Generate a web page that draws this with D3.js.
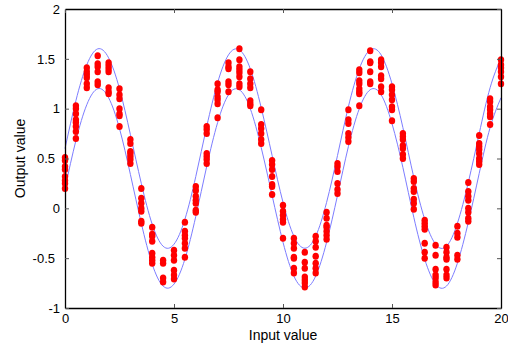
<!DOCTYPE html>
<html><head><meta charset="utf-8">
<script src="https://cdn.jsdelivr.net/npm/d3@7"></script>
<style>body{margin:0;background:#fff}svg{display:block}text{font-family:"Liberation Sans",Arial,sans-serif}</style>
</head><body>
<script>
const xTicks=[0,5,10,15,20];
const yTicks=[-1,-0.5,0,0.5,1,1.5,2];
const lineX=[0,0.5,1,1.5,2,2.5,3,3.5,4,4.5,5,5.5,6,6.5,7,7.5,8,8.5,9,9.5,10,10.5,11,11.5,12,12.5,13,13.5,14,14.5,15,15.5,16,16.5,17,17.5,18,18.5,19,19.5,20];
const upperY=[0.60,1.08,1.44,1.60,1.51,1.20,0.74,0.25,-0.16,-0.38,-0.36,-0.11,0.32,0.82,1.26,1.54,1.59,1.40,1.01,0.53,0.06,-0.28,-0.40,-0.28,0.06,0.53,1.02,1.40,1.59,1.54,1.25,0.81,0.31,-0.11,-0.36,-0.38,-0.15,0.26,0.75,1.21,1.51];
const lowerY=[0.20,0.68,1.04,1.20,1.11,0.80,0.34,-0.15,-0.56,-0.78,-0.76,-0.51,-0.08,0.42,0.86,1.14,1.19,1.00,0.61,0.13,-0.34,-0.68,-0.80,-0.68,-0.34,0.13,0.62,1.00,1.19,1.14,0.85,0.41,-0.09,-0.51,-0.76,-0.78,-0.55,-0.14,0.35,0.81,1.11];
// sample values per input column (same order as lineX)
const samples=[
[0.51,0.48,0.42,0.39,0.32,0.28,0.25,0.20],
[1.03,1.00,0.95,0.89,0.86,0.82,0.77,0.70],
[1.41,1.37,1.34,1.31,1.25,1.21],
[1.53,1.45,1.42,1.37,1.27,1.24],
[1.46,1.43,1.40,1.37,1.21,1.17,1.15],
[1.20,1.14,1.10,1.00,0.95,0.93,0.82],
[0.69,0.65,0.57,0.55,0.52,0.49,0.45],
[0.20,0.10,0.05,0.00,-0.03,-0.13,-0.15],
[-0.19,-0.26,-0.28,-0.33,-0.45,-0.49,-0.52,-0.55],
[-0.52,-0.55,-0.70,-0.74],
[-0.42,-0.47,-0.52,-0.62,-0.67,-0.71],
[-0.14,-0.23,-0.27,-0.30,-0.35,-0.40,-0.49],
[0.22,0.18,0.12,0.08,0.05,-0.02,-0.04],
[0.82,0.79,0.75,0.55,0.52,0.49,0.45],
[1.25,1.19,1.17,1.12,1.09,1.05,0.91],
[1.46,1.42,1.40,1.27,1.24,1.17],
[1.60,1.49,1.42,1.39,1.36,1.32,1.25,1.22],
[1.37,1.30,1.25,1.21,1.08,1.05,1.03],
[0.99,0.84,0.80,0.75,0.69,0.65],
[0.48,0.44,0.39,0.32,0.24,0.22,0.14],
[0.03,-0.03,-0.07,-0.11,-0.14,-0.30],
[-0.30,-0.35,-0.40,-0.49,-0.50,-0.60,-0.65],
[-0.44,-0.54,-0.60,-0.69,-0.72,-0.75,-0.79],
[-0.28,-0.33,-0.39,-0.48,-0.55,-0.60,-0.65],
[-0.04,-0.10,-0.17,-0.19,-0.23,-0.27,-0.31],
[0.45,0.42,0.37,0.25,0.19,0.15],
[0.99,0.89,0.85,0.75,0.71,0.67],
[1.39,1.36,1.28,1.25,1.20,1.17,1.15,1.03],
[1.58,1.47,1.46,1.37,1.27,1.25],
[1.49,1.46,1.42,1.33,1.30,1.22,1.17],
[1.22,1.19,1.14,1.09,1.02,0.99,0.88],
[0.75,0.72,0.69,0.63,0.60,0.54,0.50],
[0.30,0.27,0.20,0.17,0.09,0.05,-0.01],
[-0.12,-0.15,-0.18,-0.21,-0.35,-0.44,-0.50],
[-0.37,-0.47,-0.61,-0.67,-0.70,-0.74,-0.77],
[-0.39,-0.44,-0.49,-0.51,-0.61,-0.67,-0.70],
[-0.18,-0.25,-0.29,-0.47,-0.51],
[0.26,0.17,0.12,0.08,0.00,-0.04,-0.10,-0.13],
[0.73,0.65,0.62,0.59,0.55,0.50,0.47,0.44],
[1.10,1.07,1.02,0.99,0.95,0.92,0.84],
[1.49,1.44,1.41,1.37,1.32,1.25]
];

const W=508,H=348,L=65,R=501,T=9,B=308;
const svg=d3.select("body").append("svg").attr("width",W).attr("height",H);
const x=d3.scaleLinear().domain([0,20]).range([L,R]);
const y=d3.scaleLinear().domain([-1,2]).range([B,T]);

const line=d3.line().curve(d3.curveNatural).x((d,i)=>x(lineX[i])).y(d=>y(d));
[upperY,lowerY].forEach(s=>svg.append("path").attr("d",line(s)).attr("fill","none").attr("stroke","#7d7dff").attr("stroke-width",1));

const pts=[];
samples.forEach((col,i)=>col.forEach(v=>pts.push([lineX[i],v])));
svg.append("g").selectAll("ellipse").data(pts).join("ellipse")
 .attr("cx",d=>x(d[0])).attr("cy",d=>y(d[1])).attr("rx",3.2).attr("ry",3.5).attr("fill","#ff0000");

const fs="13px";
const gx=svg.append("g").attr("transform",`translate(0,${B})`).call(d3.axisBottom(x).tickValues(xTicks).tickSizeInner(-4).tickSizeOuter(0).tickPadding(6).tickFormat(d3.format("d")));
const gy=svg.append("g").attr("transform",`translate(${L},0)`).call(d3.axisLeft(y).tickValues(yTicks).tickSizeInner(-4).tickSizeOuter(0).tickPadding(5).tickFormat(d=>String(d)));
const gt=svg.append("g").attr("transform",`translate(0,${T})`).call(d3.axisTop(x).tickValues(xTicks).tickSizeInner(-4).tickSizeOuter(0).tickFormat(""));
const gr=svg.append("g").attr("transform",`translate(${R},0)`).call(d3.axisRight(y).tickValues(yTicks).tickSizeInner(-4).tickSizeOuter(0).tickFormat(""));
[gx,gy,gt,gr].forEach(g=>{g.selectAll(".domain").attr("stroke","#000").attr("stroke-width",1.3);g.selectAll(".tick line").attr("stroke","#555");g.selectAll("text").attr("font-size",fs).attr("fill","#000").style("font-family","'Liberation Sans',Arial,sans-serif");});
gy.selectAll(".tick text").attr("dx",d=>Number.isInteger(d)?0:-5);

svg.append("text").attr("x",(L+R)/2).attr("y",340).attr("text-anchor","middle").attr("font-size","14px").text("Input value");
svg.append("text").attr("transform",`translate(25,${(T+B)/2}) rotate(-90)`).attr("text-anchor","middle").attr("font-size","14px").text("Output value");
</script>
</body></html>
